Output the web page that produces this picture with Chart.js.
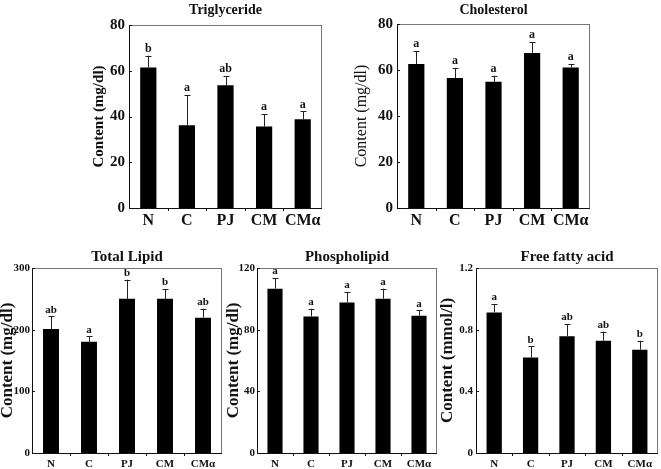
<!DOCTYPE html>
<html>
<head>
<meta charset="utf-8">
<script src="https://cdn.jsdelivr.net/npm/chart.js@4.4.0/dist/chart.umd.min.js"></script>
<style>
  body { margin: 0; background: #fff; }
  #wrap { position: relative; width: 661px; height: 469px; overflow: hidden; }
  .panel { position: absolute; }
</style>
</head>
<body>
<div id="wrap">
  <div class="panel" style="left:90px;top:0px;width:240px;height:232px"><canvas id="c1"></canvas></div>
  <div class="panel" style="left:352px;top:0px;width:248px;height:232px"><canvas id="c2"></canvas></div>
  <div class="panel" style="left:-3px;top:240px;width:231px;height:229px"><canvas id="c3"></canvas></div>
  <div class="panel" style="left:223px;top:240px;width:221px;height:229px"><canvas id="c4"></canvas></div>
  <div class="panel" style="left:437px;top:240px;width:224px;height:229px"><canvas id="c5"></canvas></div>
</div>
<script>
// Grupos
var categorias = ["N", "C", "PJ", "CM", "CMα"];

// Triglyceride (mg/dl)
var tgMedia = [61.4, 36.2, 53.7, 35.6, 38.8];
var tgError = [5.2, 13.2, 4.0, 5.4, 3.4];
var tgLetras = ["b", "a", "ab", "a", "a"];

// Cholesterol (mg/dl)
var colMedia = [62.6, 56.5, 54.9, 67.4, 61.1];
var colError = [5.5, 4.4, 2.6, 4.6, 1.5];
var colLetras = ["a", "a", "a", "a", "a"];

// Total Lipid (mg/dl)
var tlMedia = [201, 180.5, 250, 250, 219.4];
var tlError = [20.6, 8.5, 31, 16, 14.6];
var tlLetras = ["ab", "a", "b", "b", "ab"];

// Phospholipid (mg/dl)
var plMedia = [106.6, 88.6, 97.7, 100.1, 89.1];
var plError = [6.9, 5.0, 6.7, 6.5, 3.4];
var plLetras = ["a", "a", "a", "a", "a"];

// Free fatty acid (mmol/l)
var agMedia = [0.912, 0.620, 0.757, 0.728, 0.670];
var agError = [0.054, 0.072, 0.080, 0.059, 0.058];
var agLetras = ["a", "b", "ab", "ab", "b"];

var serif = "'Liberation Serif', 'Times New Roman', serif";

// Plugin: marco, barras de error, letras y titulo del panel
var extras = {
    id: "extras",
    afterDatasetsDraw: function (chart) {
        var o = chart.options.plugins.extras;
        var ctx = chart.ctx;
        var area = chart.chartArea;
        var y = chart.scales.y;
        var x = chart.scales.x;
        var meta = chart.getDatasetMeta(0);
        ctx.save();
        // marco
        ctx.strokeStyle = "#777";
        ctx.lineWidth = 1;
        ctx.strokeRect(area.left + 0.5, area.top + 0.5, area.right - area.left - 1, area.bottom - area.top);
        ctx.strokeStyle = "#111";
        ctx.beginPath();
        ctx.moveTo(area.left + 0.5, area.top);
        ctx.lineTo(area.left + 0.5, area.bottom + 0.5);
        ctx.lineTo(area.right, area.bottom + 0.5);
        ctx.stroke();
        // marcas
        ctx.beginPath();
        y.ticks.forEach(function (t) {
            var py = Math.round(y.getPixelForValue(t.value)) + 0.5;
            ctx.moveTo(area.left, py);
            ctx.lineTo(area.left + 3, py);
        });
        for (var k = 1; k < categorias.length; k++) {
            var px = Math.round((x.getPixelForValue(k - 1) + x.getPixelForValue(k)) / 2) + 0.5;
            ctx.moveTo(px, area.bottom);
            ctx.lineTo(px, area.bottom + 3);
        }
        ctx.stroke();
        // barras de error y letras
        ctx.strokeStyle = "#222";
        ctx.fillStyle = "#111";
        ctx.font = "bold " + o.letraSize + "px " + serif;
        ctx.textAlign = "center";
        ctx.textBaseline = "bottom";
        meta.data.forEach(function (bar, i) {
            var v = chart.data.datasets[0].data[i];
            var top = y.getPixelForValue(v + o.error[i]);
            var cx = Math.round(bar.x) + 0.5;
            ctx.beginPath();
            ctx.moveTo(cx, bar.y);
            ctx.lineTo(cx, top);
            ctx.moveTo(cx - 3, Math.round(top) + 0.5);
            ctx.lineTo(cx + 3, Math.round(top) + 0.5);
            ctx.stroke();
            ctx.fillText(o.letras[i], bar.x, top - 1);
        });
        // titulo
        ctx.font = "bold " + o.tituloSize + "px " + serif;
        ctx.textBaseline = "middle";
        ctx.fillText(o.titulo, (area.left + area.right) / 2, o.tituloY);
        ctx.restore();
    }
};

function grafico(id, media, error, letras, cfg) {
    var contexto = document.getElementById(id).getContext("2d");
    return new Chart(contexto, {
        type: "bar",
        data: {
            labels: categorias,
            datasets: [{
                data: media,
                backgroundColor: "#000",
                barPercentage: 0.42,
                categoryPercentage: 1
            }]
        },
        options: {
            responsive: true,
            maintainAspectRatio: false,
            animation: false,
            events: [],
            layout: { padding: { top: cfg.padTop, right: cfg.padRight, left: 0, bottom: 0 } },
            plugins: {
                legend: { display: false },
                tooltip: { enabled: false },
                extras: {
                    error: error,
                    letras: letras,
                    titulo: cfg.titulo,
                    tituloY: cfg.tituloY,
                    tituloSize: cfg.tituloSize,
                    letraSize: cfg.letraSize
                }
            },
            scales: {
                x: {
                    grid: { display: false, drawTicks: false },
                    border: { display: false },
                    ticks: { color: "#111", font: { family: serif, weight: "bold", size: cfg.xFont }, padding: cfg.xPad, maxRotation: 0 },
                    afterFit: function (s) { s.height = cfg.xAlto; }
                },
                y: {
                    min: 0,
                    max: cfg.max,
                    grid: { display: false, drawTicks: false },
                    border: { display: false },
                    ticks: {
                        stepSize: cfg.paso,
                        color: "#111",
                        padding: cfg.yPad,
                        font: { family: serif, weight: "bold", size: cfg.yFont },
                        callback: function (v) { return +v.toFixed(1); }
                    },
                    title: {
                        display: true,
                        text: cfg.unidad,
                        color: "#111",
                        padding: { top: 0, bottom: 0 },
                        font: { family: serif, weight: cfg.pesoEje, size: cfg.tituloEje }
                    },
                    afterFit: function (s) { s.width = cfg.yAncho; }
                }
            }
        },
        plugins: [extras]
    });
}

grafico("c1", tgMedia, tgError, tgLetras, {
    titulo: "Triglyceride", tituloY: 10, tituloSize: 14, letraSize: 12,
    padTop: 25, padRight: 8, xAlto: 24, xPad: 3, yAncho: 39, yPad: 4, max: 80, paso: 20,
    unidad: "Content (mg/dl)", xFont: 16, yFont: 15, tituloEje: 15, pesoEje: "bold"
});
grafico("c2", colMedia, colError, colLetras, {
    titulo: "Cholesterol", tituloY: 10, tituloSize: 14, letraSize: 12,
    padTop: 24, padRight: 10, xAlto: 24, xPad: 3, yAncho: 45, yPad: 4, max: 80, paso: 20,
    unidad: "Content (mg/dl)", xFont: 16, yFont: 15, tituloEje: 16, pesoEje: "normal"
});
grafico("c3", tlMedia, tlError, tlLetras, {
    titulo: "Total Lipid", tituloY: 17, tituloSize: 15, letraSize: 11,
    padTop: 28, padRight: 6, xAlto: 16, xPad: 5, yAncho: 35, yPad: 2, max: 300, paso: 100,
    unidad: "Content (mg/dl)", xFont: 11, yFont: 11, tituloEje: 17, pesoEje: "bold"
});
grafico("c4", plMedia, plError, plLetras, {
    titulo: "Phospholipid", tituloY: 17, tituloSize: 15, letraSize: 11,
    padTop: 28, padRight: 7, xAlto: 16, xPad: 5, yAncho: 34, yPad: 2, max: 120, paso: 40,
    unidad: "Content (mg/dl)", xFont: 11, yFont: 11, tituloEje: 17, pesoEje: "bold"
});
grafico("c5", agMedia, agError, agLetras, {
    titulo: "Free fatty acid", tituloY: 17, tituloSize: 15, letraSize: 11,
    padTop: 28, padRight: 3, xAlto: 16, xPad: 5, yAncho: 39, yPad: 3, max: 1.2, paso: 0.4,
    unidad: "Content (mmol/l)", xFont: 11, yFont: 11, tituloEje: 17, pesoEje: "bold"
});
</script>
</body>
</html>
